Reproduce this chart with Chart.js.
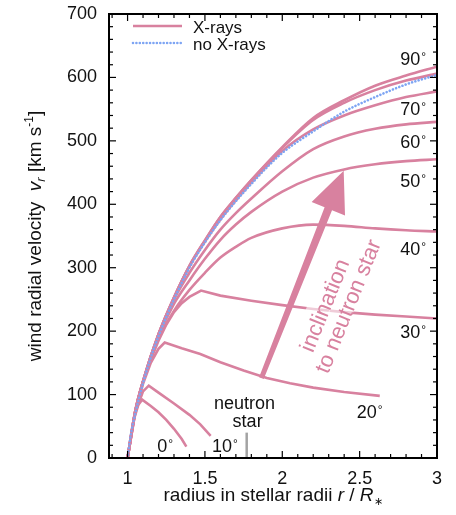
<!DOCTYPE html>
<html>
<head>
<meta charset="utf-8">
<script src="https://cdn.jsdelivr.net/npm/chart.js@4.4.1/dist/chart.umd.min.js"></script>
<style>
  html, body { margin: 0; padding: 0; background: #fff; }
</style>
</head>
<body>
<canvas id="windChart" width="456" height="515"></canvas>
<script>
// wind radial velocity vs radius
const xTicks = [1, 1.5, 2, 2.5, 3]

const rMain = [1.0, 1.02, 1.05, 1.1, 1.15, 1.2, 1.25, 1.3, 1.4, 1.5, 1.6, 1.7, 1.8, 1.9, 2.0, 2.2, 2.4, 2.6, 2.8, 3.0]
const vNoXrays = [0, 35, 70, 118, 158, 192, 222, 250, 300, 340, 375, 405, 432, 458, 481, 515, 546, 569, 589, 604]

const rHigh = [1.0, 1.05, 1.1, 1.2, 1.3, 1.4, 1.5, 1.6, 1.7, 1.8, 2.0, 2.2, 2.4, 2.6, 2.8, 3.0]
const v90 = [0, 74, 121, 195, 253, 303, 343, 380, 410, 438, 490, 536, 564, 587, 603, 617]
const v80 = [0, 74, 121, 195, 253, 303, 343, 380, 410, 438, 489, 533, 560, 580, 595, 606]
const v70 = [0, 74, 121, 195, 253, 302, 341, 376, 406, 434, 484, 518, 540, 556, 569, 578]
const v60 = [0, 74, 121, 195, 250, 292, 328, 360, 386, 409, 452, 487, 507, 519, 526, 530]
const v50 = [0, 74, 121, 192, 243, 280, 314, 344, 368, 388, 420, 442, 455, 463, 468, 471]
const v40 = [0, 74, 120, 188, 232, 265, 292, 316, 333, 347, 362, 368, 366, 362, 359, 357]

const r30 = [1.0, 1.05, 1.1, 1.15, 1.2, 1.25, 1.3, 1.35, 1.4, 1.475, 1.6, 1.8, 2.0, 2.2, 2.4, 2.6, 2.8, 3.0]
const v30 = [0, 74, 120, 155, 185, 210, 230, 244, 254, 264, 256, 248, 241, 235, 230, 226, 223, 220]

const r20 = [1.0, 1.05, 1.1, 1.15, 1.2, 1.24, 1.35, 1.47, 1.6, 1.75, 1.9, 2.05, 2.2, 2.4, 2.63]
const v20 = [0, 72, 117, 150, 172, 182, 173, 164, 151, 138, 126, 118, 111, 104, 98]

const r10 = [1.0, 1.05, 1.1, 1.137, 1.2, 1.3, 1.4, 1.47, 1.537]
const v10 = [0, 72, 105, 114, 103, 86, 68, 53, 35]

const r0 = [1.0, 1.04, 1.07, 1.094, 1.15, 1.2, 1.25, 1.3, 1.35, 1.38]
const v0 = [0, 60, 84, 92, 82, 72, 60, 46, 30, 18]

const neutronStarR = [1.77, 1.77]
const neutronStarV = [0, 40]

// inclination labels: text, r of left edge, v of baseline
const angleText = ['0', '10', '20', '30', '40', '50', '60', '70', '90']
const angleAtR = [1.192, 1.545, 2.481, 2.763, 2.763, 2.763, 2.763, 2.763, 2.763]
const angleAtV = [9.5, 9.5, 63, 189, 320, 427, 489, 541, 620]

const FONT = "'Liberation Sans', Arial, Helvetica, sans-serif"
const pink = '#d8819f'
const blue = '#7ea5f3'

function pts(r, v) {
    return r.map((x, i) => ({ x: x, y: v[i] }))
}

// smooth ones get monotone interpolation, the kinked ones stay straight
const xrayCurves = [
    [rHigh, v90, true], [rHigh, v80, true], [rHigh, v70, true], [rHigh, v60, true], [rHigh, v50, true],
    [rHigh, v40, true], [r30, v30, false], [r20, v20, false], [r10, v10, false], [r0, v0, false]
]

const datasets = xrayCurves.map(c => ({
    label: 'X-rays',
    data: pts(c[0], c[1]),
    borderColor: pink,
    borderWidth: 2.6,
    pointRadius: 0,
    cubicInterpolationMode: c[2] ? 'monotone' : 'default',
    tension: 0,
    order: 2
}))
datasets.push({
    label: 'no X-rays',
    data: pts(rMain, vNoXrays),
    borderColor: blue,
    borderWidth: 2.6,
    borderDash: [0.01, 3.4],
    borderCapStyle: 'round',
    pointRadius: 0,
    cubicInterpolationMode: 'monotone',
    order: 1
})
datasets.push({
    label: 'neutron star',
    data: pts(neutronStarR, neutronStarV),
    borderColor: '#a3a3a3',
    borderWidth: 2.5,
    pointRadius: 0,
    order: 3
})

function line(ctx, x1, y1, x2, y2) {
    ctx.beginPath(); ctx.moveTo(x1, y1); ctx.lineTo(x2, y2); ctx.stroke()
}

// draws a run of differently styled pieces, centred on (x, y) baseline, rotated by angle
function richText(ctx, pieces, x, y, angle) {
    ctx.save()
    ctx.translate(x, y)
    ctx.rotate(angle)
    ctx.textBaseline = 'alphabetic'
    ctx.textAlign = 'left'
    let total = 0
    pieces.forEach(p => { ctx.font = p.font; total += ctx.measureText(p.t).width })
    let cx = -total / 2
    pieces.forEach(p => {
        ctx.font = p.font
        ctx.fillText(p.t, cx, p.dy || 0)
        cx += ctx.measureText(p.t).width
    })
    ctx.restore()
}

const extras = {
    id: 'extras',
    afterDatasetsDraw(chart) {
        const ctx = chart.ctx
        const xs = chart.scales.x, ys = chart.scales.y
        const { left, right, top, bottom } = chart.chartArea
        const px = v => xs.getPixelForValue(v)
        const py = v => ys.getPixelForValue(v)

        // rotated note with a light halo behind each line
        const ang = Math.atan2(-205, 83)
        const u = [Math.cos(ang), Math.sin(ang)]
        const n = [-u[1], u[0]]
        const c1 = [px(2.28), py(240)]
        const c2 = [c1[0] + 22 * n[0] + 8 * u[0], c1[1] + 22 * n[1] + 8 * u[1]]
        const note = [['inclination', c1], ['to neutron star', c2]]
        ctx.save()
        ctx.font = '22px ' + FONT
        note.forEach(([t, c]) => {
            const w = ctx.measureText(t).width
            ctx.save()
            ctx.translate(c[0], c[1])
            ctx.rotate(ang)
            ctx.fillStyle = 'rgba(255,255,255,0.6)'
            ctx.fillRect(-w / 2 - 4, -17, w + 8, 23)
            ctx.restore()
        })
        ctx.restore()

        // arrow
        const sx = px(1.865), sy = py(126)
        const tx = px(2.397), ty = py(453)
        const headLen = 41, headHalf = 18
        const bx = tx - u[0] * headLen, by = ty - u[1] * headLen
        ctx.save()
        ctx.fillStyle = pink
        ctx.beginPath()
        ctx.moveTo(sx - n[0] * 2.5, sy - n[1] * 2.5)
        ctx.lineTo(bx - n[0] * 4, by - n[1] * 4)
        ctx.lineTo(bx - n[0] * headHalf, by - n[1] * headHalf)
        ctx.lineTo(tx, ty)
        ctx.lineTo(bx + n[0] * headHalf, by + n[1] * headHalf)
        ctx.lineTo(bx + n[0] * 4, by + n[1] * 4)
        ctx.lineTo(sx + n[0] * 2.5, sy + n[1] * 2.5)
        ctx.closePath()
        ctx.fill()
        ctx.restore()

        ctx.save()
        ctx.fillStyle = pink
        ctx.font = '22px ' + FONT
        ctx.textAlign = 'center'
        ctx.textBaseline = 'middle'
        note.forEach(([t, c]) => {
            ctx.save()
            ctx.translate(c[0], c[1])
            ctx.rotate(ang)
            ctx.fillText(t, 0, 0)
            ctx.restore()
        })
        ctx.restore()

        // inclination labels
        ctx.save()
        ctx.fillStyle = '#111'
        ctx.textAlign = 'left'
        ctx.textBaseline = 'alphabetic'
        angleText.forEach((t, i) => {
            const x = px(angleAtR[i]), y = py(angleAtV[i])
            ctx.font = '18px ' + FONT
            ctx.fillText(t, x, y)
            const w = ctx.measureText(t).width
            ctx.font = '12px ' + FONT
            ctx.fillText('\u00b0', x + w + 1, y - 4)
        })
        ctx.font = '18px ' + FONT
        ctx.textAlign = 'center'
        ctx.fillText('neutron', px(1.756), py(78))
        ctx.fillText('star', px(1.776), py(49))
        ctx.restore()

        // frame with inward ticks on all sides
        ctx.save()
        ctx.strokeStyle = '#000'
        ctx.lineWidth = 1.2
        for (let i = 9; i <= 30; i++) {
            const p = px(i / 10)
            const len = i % 5 === 0 ? 7 : 4
            line(ctx, p, bottom, p, bottom - len)
            line(ctx, p, top, p, top + len)
        }
        for (let v = 0; v <= 700; v += 20) {
            const p = py(v)
            const len = v % 100 === 0 ? 7 : 4
            line(ctx, left, p, left + len, p)
            line(ctx, right, p, right - len, p)
        }
        ctx.lineWidth = 2
        ctx.strokeRect(left, top, right - left, bottom - top)
        ctx.restore()

        // legend
        ctx.save()
        ctx.lineWidth = 2.6
        ctx.strokeStyle = pink
        line(ctx, 133, 26, 182, 26)
        ctx.strokeStyle = blue
        ctx.setLineDash([0.01, 3.4])
        ctx.lineCap = 'round'
        line(ctx, 133, 43, 182, 43)
        ctx.setLineDash([])
        ctx.fillStyle = '#111'
        ctx.font = '17px ' + FONT
        ctx.textBaseline = 'alphabetic'
        ctx.fillText('X-rays', 193, 33)
        ctx.fillText('no X-rays', 193, 50)
        ctx.restore()

        // axis titles
        ctx.save()
        ctx.fillStyle = '#111'
        richText(ctx, [
            { t: 'wind radial velocity  ', font: '19px ' + FONT },
            { t: 'v', font: 'italic 19px ' + FONT },
            { t: 'r', font: 'italic 13px ' + FONT, dy: 4 },
            { t: ' [km s', font: '19px ' + FONT },
            { t: '-1', font: '12px ' + FONT, dy: -8 },
            { t: ']', font: '19px ' + FONT }
        ], 41, 236, -Math.PI / 2)
        richText(ctx, [
            { t: 'radius in stellar radii ', font: '19px ' + FONT },
            { t: 'r', font: 'italic 19px ' + FONT },
            { t: ' / ', font: '19px ' + FONT },
            { t: 'R', font: 'italic 19px ' + FONT },
            { t: '\u2217', font: '11px ' + FONT, dy: 4 }
        ], 273, 501, 0)
        ctx.restore()
    }
}

const windChart = new Chart(document.getElementById('windChart'), {
    type: 'line',
    data: { datasets: datasets },
    options: {
        responsive: false,
        animation: false,
        devicePixelRatio: 1,
        layout: { padding: { top: 14, right: 19, left: 0, bottom: 0 } },
        plugins: { legend: { display: false }, tooltip: { enabled: false } },
        scales: {
            x: {
                type: 'linear',
                min: 0.88,
                max: 3,
                afterFit: s => { s.height = 57; s.paddingLeft = 0; s.paddingRight = 0 },
                afterBuildTicks: s => { s.ticks = xTicks.map(v => ({ value: v })) },
                ticks: {
                    autoSkip: false, maxRotation: 0, padding: 10, color: '#111',
                    font: { family: FONT, size: 18 },
                    callback: v => String(v)
                },
                grid: { display: false, drawTicks: false },
                border: { display: false }
            },
            y: {
                min: 0,
                max: 700,
                afterFit: s => { s.width = 109; s.paddingTop = 0; s.paddingBottom = 0 },
                ticks: {
                    stepSize: 100, padding: 12, color: '#111',
                    font: { family: FONT, size: 18 }
                },
                grid: { display: false, drawTicks: false },
                border: { display: false }
            }
        }
    },
    plugins: [extras]
})
</script>
</body>
</html>
